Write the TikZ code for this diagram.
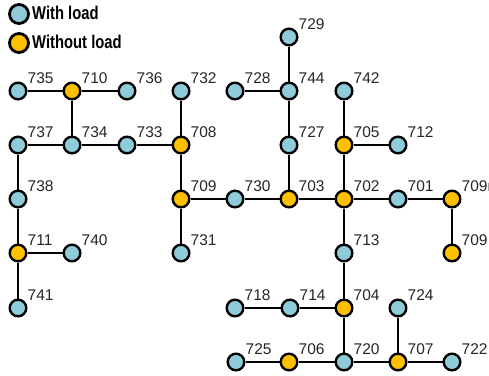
\documentclass[tikz,border=0pt]{standalone}
\usepackage{fontspec}
\setmainfont{Liberation Sans}
\newfontfamily\legendfont[FakeStretch=0.8]{Liberation Sans}
\definecolor{loadblue}{RGB}{143,204,218}
\definecolor{freeorange}{RGB}{255,192,0}
\tikzset{
  bus/.style={circle, draw=black, line width=2.4pt, minimum size=16.6pt, inner sep=0pt},
  loaded/.style={bus, fill=loadblue},
  unloaded/.style={bus, fill=freeorange},
  legbus/.style={circle, draw=black, line width=2.8pt, minimum size=19pt, inner sep=0pt},
  lbl/.style={anchor=base west, inner sep=0pt, text=black!85, font=\fontsize{15.5}{18}\selectfont},
  legtext/.style={anchor=base west, inner sep=0pt, font=\legendfont\bfseries\fontsize{18.5}{20}\selectfont},
  line/.style={line width=2.2pt, draw=black}
}
% bus node with its number set above right
\newcommand\busnode[5]{%
  \node[#4] (#1) at (#2,#3) {};
  \node[lbl] (#1-l) at ([xshift=9.5pt,yshift=7.5pt]#1.center) {#5};}
\begin{document}
\begin{tikzpicture}[x=1pt,y=-1pt]
\useasboundingbox (0,0) rectangle (489,375);

% legend
\node[legbus, fill=loadblue] (leg1) at (19,14) {};
\node[legtext] (leg1t) at (32,19.5) {With load};
\node[legbus, fill=freeorange] (leg2) at (19,43) {};
\node[legtext] (leg2t) at (32,48.5) {Without load};

% buses
\busnode{n729}{289}{37}{loaded}{729}
\busnode{n735}{18}{91}{loaded}{735}
\busnode{n710}{72}{91}{unloaded}{710}
\busnode{n736}{127}{91}{loaded}{736}
\busnode{n732}{181}{91}{loaded}{732}
\busnode{n728}{235}{91}{loaded}{728}
\busnode{n744}{289}{91}{loaded}{744}
\busnode{n742}{344}{91}{loaded}{742}
\busnode{n737}{18}{145}{loaded}{737}
\busnode{n734}{72}{145}{loaded}{734}
\busnode{n733}{127}{145}{loaded}{733}
\busnode{n708}{181}{145}{unloaded}{708}
\busnode{n727}{289}{145}{loaded}{727}
\busnode{n705}{344}{145}{unloaded}{705}
\busnode{n712}{398}{145}{loaded}{712}
\busnode{n738}{18}{199}{loaded}{738}
\busnode{n709}{181}{199}{unloaded}{709}
\busnode{n730}{235}{199}{loaded}{730}
\busnode{n703}{289}{199}{unloaded}{703}
\busnode{n702}{344}{199}{unloaded}{702}
\busnode{n701}{398}{199}{loaded}{701}
\busnode{n709m}{452}{199}{unloaded}{709m}
\busnode{n711}{18}{253}{unloaded}{711}
\busnode{n740}{72}{253}{loaded}{740}
\busnode{n731}{181}{253}{loaded}{731}
\busnode{n713}{344}{253}{loaded}{713}
\busnode{n709b}{452}{253}{unloaded}{709}
\busnode{n741}{18}{308}{loaded}{741}
\busnode{n718}{235}{308}{loaded}{718}
\busnode{n714}{290}{308}{loaded}{714}
\busnode{n704}{344}{308}{unloaded}{704}
\busnode{n724}{398}{308}{loaded}{724}
\busnode{n725}{236}{362}{loaded}{725}
\busnode{n706}{289}{362}{unloaded}{706}
\busnode{n720}{344}{362}{loaded}{720}
\busnode{n707}{398}{362}{unloaded}{707}
\busnode{n722}{452}{362}{loaded}{722}

% lines between buses
\foreach \a/\b in {n735/n710, n710/n736, n710/n734, n737/n734, n734/n733,
  n733/n708, n732/n708, n708/n709, n709/n730, n709/n731, n730/n703,
  n703/n702, n702/n701, n701/n709m, n709m/n709b, n729/n744, n728/n744,
  n744/n727, n727/n703, n742/n705, n705/n712, n705/n702, n702/n713,
  n713/n704, n718/n714, n714/n704, n704/n720, n725/n706, n706/n720,
  n720/n707, n707/n722, n724/n707, n737/n738, n738/n711, n711/n740,
  n711/n741}
  \draw[line] (\a) -- (\b);
\end{tikzpicture}
\end{document}
